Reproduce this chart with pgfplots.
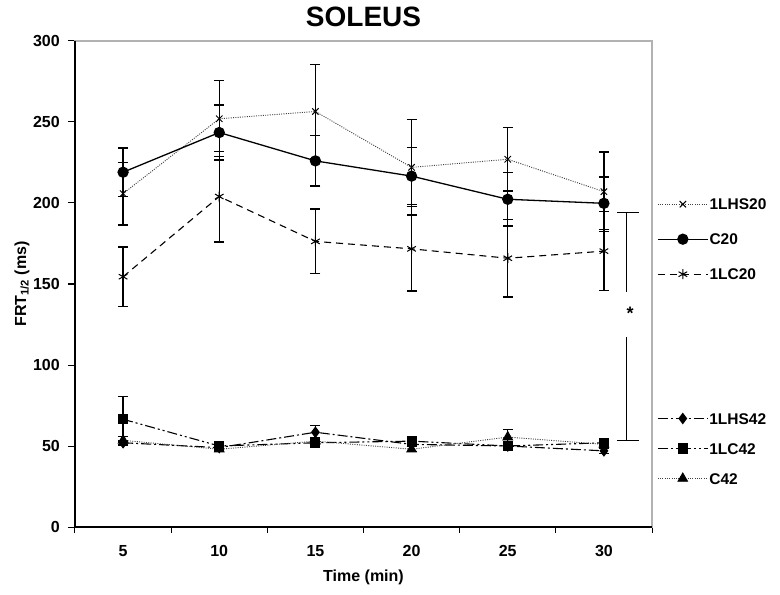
\documentclass[border=0pt]{standalone}
\usepackage{fontspec}
\setmainfont{Liberation Sans}
\usepackage{pgfplots}
\pgfplotsset{compat=1.18}
\newcommand\lf{\fontsize{16}{19}\bfseries\selectfont}
\newcommand\legf{\fontsize{15.5}{18}\bfseries\selectfont}
\begin{document}
\begin{tikzpicture}
\pgfplotsset{
  common/.style={
    scale only axis, width=577pt, height=486pt,
    xmin=2.5, xmax=32.5, ymin=0, ymax=300,
    clip=false,
  },
  myleg/.style={
    legend cell align=left,
    legend style={draw=none, fill=none, font=\legf, inner sep=0pt,
      nodes={inner sep=1pt, text height=11pt, text depth=0pt}},
    legend image code/.code={\draw[mark repeat=2,mark phase=2,##1] plot coordinates {(0pt,0pt) (25pt,0pt) (50pt,0pt)};},
  },
  ebar/.style={error bars/.cd, y dir=both, y explicit,
    error bar style={solid, black, line width=1.3pt},
    error mark options={rotate=90, solid, black, line width=1.3pt, mark size=5pt}},
}
\begin{axis}[common, myleg,
  axis line style={draw=gray!60, line width=1.2pt},
  tick pos=left, tick align=outside,
  ytick={0,50,...,300}, major tick length=7pt,
  xtick={5,10,...,30}, major x tick style={draw=none},
  minor xtick={2.5,7.5,...,32.5}, minor tick length=6pt,
  tick style={black, line width=1pt},
  /pgf/number format/assume math mode=true,
  ticklabel style={font=\lf},
  yticklabel style={inner sep=0pt, xshift=-8pt},
  xticklabel style={inner sep=0pt, yshift=-11pt},
  title={SOLEUS},
  title style={font=\fontsize{28}{32}\bfseries\selectfont, inner sep=0pt, at={(axis description cs:0.5,1)}, anchor=base, yshift=8pt},
  xlabel={Time (min)}, ylabel={FRT\textsubscript{1/2} (ms)},
  label style={font=\lf},
  xlabel style={at={(axis description cs:0.5,-0.103)}, anchor=center},
  ylabel style={at={(axis description cs:-0.092,0.5)}, anchor=center},
  legend style={at={(axis description cs:1.0087,0.678)}, anchor=north west, row sep=22pt},
]
\draw[black, line width=1.3pt] (rel axis cs:0,1) -- (rel axis cs:0,0) -- (rel axis cs:1,0);
% 1LHS20
\addplot[black!75, line width=0.9pt, dash pattern=on 1pt off 1.3pt, mark=x, mark size=4.5pt,
  mark options={solid, black, line width=1pt}, ebar]
  coordinates {(5,205.8) +- (0,19.3) (10,252) +- (0,23.5) (15,256.5) +- (0,29) (20,222) +- (0,29.5) (25,227) +- (0,19.6) (30,207) +- (0,24.4)};
\addlegendentry{1LHS20}
% C20
\addplot[black, line width=1.3pt, mark=*, mark size=5pt, mark options={solid}, ebar]
  coordinates {(5,219) +- (0,15) (10,243.5) +- (0,17) (15,226) +- (0,15.5) (20,216.6) +- (0,17.7) (25,202.3) +- (0,16.5) (30,199.8) +- (0,16.3)};
\addlegendentry{C20}
% 1LC20
\addplot[black, line width=1.1pt, dash pattern=on 7pt off 5pt, mark=asterisk, mark size=5pt,
  mark options={solid, line width=1pt}, ebar]
  coordinates {(5,154.5) +- (0,18.3) (10,204) +- (0,28) (15,176.3) +- (0,20) (20,171.7) +- (0,26) (25,165.9) +- (0,24) (30,170.3) +- (0,24.4)};
\addlegendentry{1LC20}
% significance bracket
\addplot[black, line width=0.9pt, forget plot] coordinates {(30.68,194) (31.82,194)};
\addplot[black, line width=0.9pt, forget plot] coordinates {(31.18,194) (31.18,145)};
\addplot[black, line width=0.9pt, forget plot] coordinates {(31.18,117) (31.18,53.3)};
\addplot[black, line width=0.9pt, forget plot] coordinates {(30.68,53.3) (31.82,53.3)};
\node[font=\fontsize{18}{20}\bfseries\selectfont] at (axis cs:31.36,132) {*};
\end{axis}
\begin{axis}[common, myleg, hide axis,
  legend style={at={(axis description cs:1.0087,0.237)}, anchor=north west, row sep=17pt},
]
% 1LHS42
\addplot[black, line width=1.1pt, dash pattern=on 10pt off 3pt on 2pt off 3pt, mark=diamond*, mark size=5pt,
  mark options={solid}, ebar]
  coordinates {(5,52) +- (0,1.5) (10,49) +- (0,1.5) (15,58.5) +- (0,4.3) (20,51) +- (0,1.5) (25,50) +- (0,1.5) (30,47) +- (0,1.5)};
\addlegendentry{1LHS42}
% 1LC42
\addplot[black, line width=1.1pt, dash pattern=on 10pt off 3pt on 2pt off 3pt on 2pt off 3pt, mark=square*, mark size=4.5pt,
  mark options={solid}, ebar]
  coordinates {(5,66.5) +- (0,14) (10,50) +- (0,2) (15,52) +- (0,2) (20,53) +- (0,2) (25,50) +- (0,2) (30,52) +- (0,2.5)};
\addlegendentry{1LC42}
% C42
\addplot[black!75, line width=0.9pt, dash pattern=on 1pt off 1.3pt, mark=triangle*, mark size=5.5pt,
  mark options={solid, black}, ebar]
  coordinates {(5,53.5) +- (0,2.5) (10,48) +- (0,1.5) (15,53) +- (0,2) (20,48) +- (0,1.5) (25,55.5) +- (0,4.5) (30,51) +- (0,2)};
\addlegendentry{C42}
\end{axis}
\pgfresetboundingbox
\path[use as bounding box] (-75pt,-68pt) rectangle (705pt,527pt);
\end{tikzpicture}
\end{document}
